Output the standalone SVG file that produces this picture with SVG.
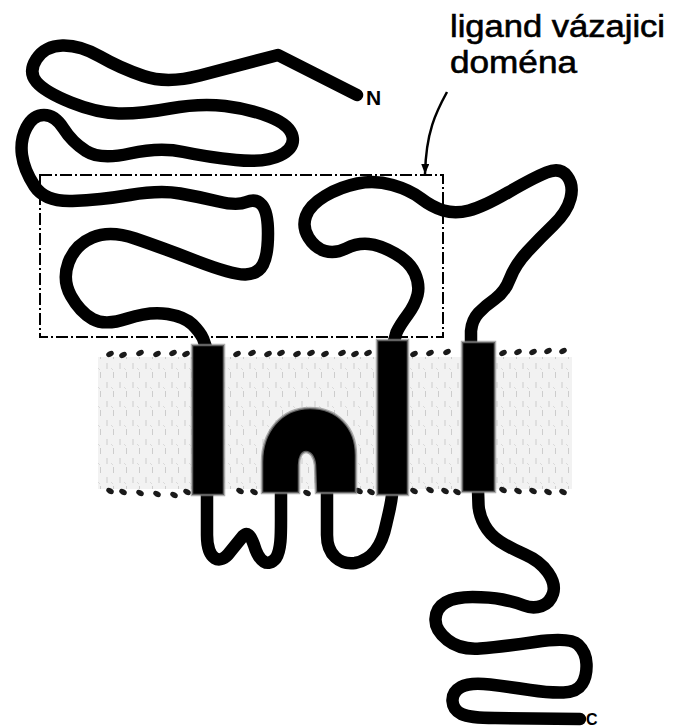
<svg xmlns="http://www.w3.org/2000/svg" xmlns:xlink="http://www.w3.org/1999/xlink" width="680" height="727" viewBox="0 0 680 727">
  <defs>
    <style>
      .chain { fill: none; stroke: #000; stroke-width: 12.5; stroke-linecap: round; stroke-linejoin: round; }
      .helix { fill: #000; stroke: #8c8c8c; stroke-width: 2.5; stroke-opacity: 0.7; }
      .domain-box { fill: none; stroke: #000; stroke-width: 2; stroke-dasharray: 12 3 2 3; }
      .label { font-family: "Liberation Sans", Arial, sans-serif; fill: #000; stroke: #000; stroke-width: 0.6; }
      .term { font-family: "Liberation Sans", Arial, sans-serif; font-weight: bold; fill: #000; }
      .head-dot { fill: #1a1a1a; }
    </style>
    <!-- faint lipid texture inside the bilayer -->
    <pattern id="lipid" width="13" height="19" patternUnits="userSpaceOnUse">
      <rect width="13" height="19" fill="#f2f2f2"/>
      <path d="M3,2 v6 M9.5,11 v6" stroke="#cdcdcd" stroke-width="1"/>
      <path d="M7,7 l2,2" stroke="#dadada" stroke-width="1"/>
    </pattern>
    <!-- lipid head groups -->
    <ellipse id="headTop" class="head-dot" rx="4" ry="2.7" transform="rotate(-25)"/>
    <ellipse id="headBottom" class="head-dot" rx="4" ry="2.7" transform="rotate(28)"/>
    <marker id="arrowhead" viewBox="0 0 10 8" refX="10" refY="4" markerWidth="14" markerHeight="8" markerUnits="userSpaceOnUse" orient="auto">
      <path d="M0,0 L10,4 L0,8 Z" fill="#000"/>
    </marker>
  </defs>

  <rect width="680" height="727" fill="#fff"/>

  <!-- lipid bilayer -->
  <g id="membrane">
    <rect x="98" y="357" width="474" height="132" fill="url(#lipid)"/>
    <g id="outer-leaflet">
      <use href="#headTop" x="110" y="354"/><use href="#headTop" x="123" y="355"/>
      <use href="#headTop" x="140" y="353"/><use href="#headTop" x="157" y="354"/>
      <use href="#headTop" x="173" y="353"/><use href="#headTop" x="186" y="354"/>
      <use href="#headTop" x="237" y="354"/><use href="#headTop" x="252" y="353"/>
      <use href="#headTop" x="268" y="354"/><use href="#headTop" x="281" y="353"/>
      <use href="#headTop" x="297" y="354"/><use href="#headTop" x="311" y="353"/>
      <use href="#headTop" x="325" y="354"/><use href="#headTop" x="342" y="353"/>
      <use href="#headTop" x="355" y="354"/><use href="#headTop" x="368" y="353"/>
      <use href="#headTop" x="414" y="354"/><use href="#headTop" x="430" y="353"/>
      <use href="#headTop" x="447" y="352"/>
      <use href="#headTop" x="503" y="353"/><use href="#headTop" x="518" y="352"/>
      <use href="#headTop" x="533" y="352"/><use href="#headTop" x="548" y="351"/>
      <use href="#headTop" x="563" y="351"/>
    </g>
    <g id="inner-leaflet">
      <use href="#headBottom" x="110" y="491"/><use href="#headBottom" x="123" y="492"/>
      <use href="#headBottom" x="140" y="493"/><use href="#headBottom" x="157" y="494"/>
      <use href="#headBottom" x="174" y="495"/><use href="#headBottom" x="187" y="492"/>
      <use href="#headBottom" x="240" y="491"/><use href="#headBottom" x="254" y="492"/>
      <use href="#headBottom" x="307" y="493"/>
      <use href="#headBottom" x="359" y="491"/><use href="#headBottom" x="371" y="492"/>
      <use href="#headBottom" x="414" y="491"/><use href="#headBottom" x="430" y="490"/>
      <use href="#headBottom" x="445" y="491"/><use href="#headBottom" x="457" y="492"/>
      <use href="#headBottom" x="503" y="490"/><use href="#headBottom" x="518" y="491"/>
      <use href="#headBottom" x="533" y="491"/><use href="#headBottom" x="548" y="492"/>
      <use href="#headBottom" x="563" y="492"/>
    </g>
  </g>

  <!-- ligand binding domain outline -->
  <g id="binding-domain-box">
    <rect class="domain-box" x="40" y="175" width="403" height="162"/>
  </g>

  <!-- polypeptide chain -->
  <g id="chain">
    <!-- N-terminal extracellular region -->
    <path class="chain" d="M357,95 L278,55 Q233,67 200,75.5 Q167,84 143.5,76 Q120,68 100,56.5 Q80,45 62.5,45.5 Q45,46 36.5,59 Q28,72 36.5,82 Q45,92 71,102.5 Q97,113 118.5,113.5 Q140,114 170,108.5 Q200,103 225,106 Q250,109 270,117 Q290,125 292.5,136.5 Q295,148 280,155.5 Q265,163 236,160 Q207,157 183.5,152 Q160,147 130,153.5 Q100,160 86,151 Q72,142 63.5,128.5 Q55,115 44,115 Q33,115 26.5,127.5 Q20,140 22,155 Q24,170 34.5,186 Q45,202 72.5,201 Q100,200 130,195 Q160,190 180,193.5 Q200,197 218.5,201.5 Q237,206 246.5,202 Q256,198 262,205 Q268,212 268,233.5 Q268,255 263,264.5 Q258,274 245.5,274.5 Q233,275 196.5,261 Q160,247 135,238.5 Q110,230 92.5,237.5 Q75,245 68.5,262.5 Q62,280 71,296 Q80,312 92.5,319 Q105,326 127.5,318.5 Q150,311 167.5,314 Q185,317 192.5,324.5 Q200,332 203,338.5 L207,350 L207,495"/>
    <!-- first intracellular loop -->
    <path class="chain" d="M207,495 L207,535 C207,560 220,566 230,552 L243,536 C247,532 250,534 254,545 C259,562 268,568 276,558 C281,550 281,535 281,520 L281,490"/>
    <!-- second intracellular loop -->
    <path class="chain" d="M327,490 L327,535 C327,555 340,565 355,563 C372,560 382,545 386,525 C389,512 391,505 392,495"/>
    <!-- extracellular loop between third and fourth helix -->
    <path class="chain" d="M393,345 L396.5,332.5 Q400,325 407.5,315 Q415,305 417.5,295 Q420,285 415,273.5 Q410,262 395,253.5 Q380,245 368.5,244 Q357,243 346,248.5 Q335,254 325,251 Q315,248 308.5,237.5 Q302,227 306,216 Q310,205 325,196 Q340,187 357.5,183.5 Q375,180 392.5,185 Q410,190 421,198.5 Q432,207 443.5,210.5 Q455,214 469,210.5 Q483,207 508,192.5 Q533,178 546.5,172.5 Q560,167 567,176 Q574,185 570.5,198.5 Q567,212 553.5,225 Q540,238 527.5,251.5 Q515,265 510,278.5 Q505,292 495,299 Q485,306 478.5,313 Q472,320 471,331 L471,345"/>
    <!-- C-terminal intracellular tail -->
    <path class="chain" d="M478,490 L478.5,505 Q479,515 484.5,525 Q490,535 500,541.5 Q510,548 525,554.5 Q540,561 548,572.5 Q556,584 553,593.5 Q550,603 541.5,606 Q533,609 524,605.5 Q515,602 502.5,599.5 Q490,597 472.5,597 Q455,597 445.5,602.5 Q436,608 435.5,619 Q435,630 447.5,640 Q460,650 480,648.5 Q500,647 535,642 Q570,637 578,644.5 Q586,652 586.5,664 Q587,676 582,684 Q577,692 563.5,692.5 Q550,693 530,690 Q510,687 490,684.5 Q470,682 461,687 Q452,692 452.5,701 Q453,710 461.5,714 Q470,718 495,718 L580,719"/>
  </g>

  <!-- membrane-spanning segments -->
  <g id="helices">
    <rect id="tm1" class="helix" x="192" y="345" width="32" height="150"/>
    <path id="tm2-reentrant" class="helix" d="M262,493 L262,462 C262,432 281,408 310,408 C338,408 356,428 356,455 L356,493 L316,493 L315,465 C314,456 310,452 306,452 C302,452 299,457 299,465 L299,493 Z"/>
    <rect id="tm3" class="helix" x="377" y="340" width="31" height="155"/>
    <rect id="tm4" class="helix" x="462" y="342" width="33" height="150"/>
  </g>

  <!-- pointer to the binding domain -->
  <g id="pointer">
    <path d="M447,92 C436,112 426,132 425,174" fill="none" stroke="#000" stroke-width="2.5" marker-end="url(#arrowhead)"/>
  </g>

  <g id="labels">
    <text class="label" x="450" y="37" font-size="31" textLength="215" lengthAdjust="spacingAndGlyphs">ligand vázajici</text>
    <text class="label" x="450" y="73" font-size="31" textLength="127" lengthAdjust="spacingAndGlyphs">doména</text>
    <text class="term" x="366" y="105" font-size="21">N</text>
    <text class="term" x="586" y="725" font-size="16">C</text>
  </g>
</svg>
